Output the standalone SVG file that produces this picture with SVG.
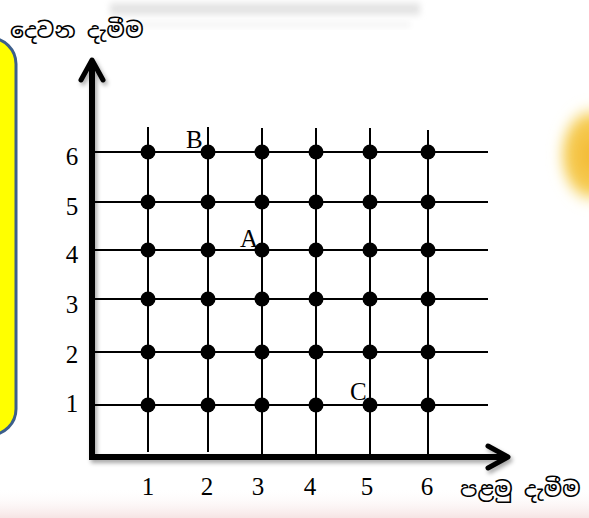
<svg xmlns="http://www.w3.org/2000/svg" width="589" height="518" viewBox="0 0 589 518">
  <defs>
    <filter id="blur6" x="-50%" y="-50%" width="200%" height="200%"><feGaussianBlur stdDeviation="6"/></filter>
    <filter id="blur3" x="-20%" y="-50%" width="140%" height="200%"><feGaussianBlur stdDeviation="3"/></filter>
    <filter id="shadow" x="-10%" y="-10%" width="120%" height="120%">
      <feDropShadow dx="2" dy="3" stdDeviation="2" flood-color="#000" flood-opacity="0.35"/>
    </filter>
    <linearGradient id="pinkbot" x1="0" y1="0" x2="0" y2="1">
      <stop offset="0" stop-color="#ffffff" stop-opacity="0"/>
      <stop offset="1" stop-color="#f6e4e4"/>
    </linearGradient>
    <radialGradient id="sun" cx="0.5" cy="0.5" r="0.5">
      <stop offset="0" stop-color="#f3b830"/>
      <stop offset="0.7" stop-color="#f6cd55"/>
      <stop offset="1" stop-color="#fbf1b0" stop-opacity="0"/>
    </radialGradient>
    <style>
      .grid { stroke: #000; stroke-width: 2; fill: none; }
      .axis { stroke: #000; stroke-width: 6; fill: none; }
      .arrow { stroke: #000; stroke-width: 5; fill: none; stroke-linecap: round; stroke-linejoin: round; }
      .pt { fill: #000; }
      .num { font-family: "Liberation Serif", "Times New Roman", serif; font-size: 25px; fill: #000; text-anchor: middle; }
      .lbl { font-family: "Liberation Serif", "Times New Roman", serif; font-size: 25px; fill: #000; }
      .si { font-family: "Noto Sans Sinhala", "Noto Serif Sinhala", "Iskoola Pota", "Noto Sans", sans-serif; font-size: 22px; fill: #000; }
    </style>
  </defs>

  <!-- background scene -->
  <rect x="0" y="0" width="589" height="518" fill="#ffffff"/>
  <g id="background">
    <rect x="110" y="3" width="310" height="12" fill="#e4e4e4" filter="url(#blur3)"/>
    <rect x="130" y="22" width="280" height="5" fill="#f2f2f2" filter="url(#blur3)"/>
    <ellipse cx="592" cy="155" rx="36" ry="52" fill="url(#sun)" filter="url(#blur6)"/>
    <rect x="0" y="488" width="589" height="30" fill="url(#pinkbot)"/>
  </g>

  <!-- yellow box at left -->
  <g id="yellow-box">
    <rect x="-40" y="38" width="56" height="397" rx="26" ry="26" fill="#ffff00" stroke="#3c5f8c" stroke-width="3"/>
  </g>

  <!-- grid lines -->
  <g id="grid" class="grid">
    <line x1="92" y1="152" x2="488" y2="152"/>
    <line x1="92" y1="202" x2="488" y2="202"/>
    <line x1="92" y1="250" x2="488" y2="250"/>
    <line x1="92" y1="299" x2="488" y2="299"/>
    <line x1="92" y1="352" x2="488" y2="352"/>
    <line x1="92" y1="405" x2="488" y2="405"/>
    <line x1="148" y1="127" x2="148" y2="452"/>
    <line x1="208" y1="127" x2="208" y2="452"/>
    <line x1="262" y1="128" x2="262" y2="457"/>
    <line x1="316" y1="128" x2="316" y2="457"/>
    <line x1="370" y1="128" x2="370" y2="457"/>
    <line x1="428" y1="130" x2="428" y2="457"/>
  </g>

  <!-- axes (connectors) -->
  <g id="axes" filter="url(#shadow)">
    <polyline class="axis" points="92,61 92,457 507,457" stroke-linejoin="miter"/>
    <polyline class="arrow" points="81,80 92,60 103,80"/>
    <polyline class="arrow" points="488,446 508,457 488,468"/>
  </g>

  <!-- points -->
  <g id="points">
    <g id="row6"><circle class="pt" cx="148" cy="152" r="7.5"/><circle class="pt" cx="208" cy="152" r="7.5"/><circle class="pt" cx="262" cy="152" r="7.5"/><circle class="pt" cx="316" cy="152" r="7.5"/><circle class="pt" cx="370" cy="152" r="7.5"/><circle class="pt" cx="428" cy="152" r="7.5"/></g>
    <g id="row5"><circle class="pt" cx="148" cy="202" r="7.5"/><circle class="pt" cx="208" cy="202" r="7.5"/><circle class="pt" cx="262" cy="202" r="7.5"/><circle class="pt" cx="316" cy="202" r="7.5"/><circle class="pt" cx="370" cy="202" r="7.5"/><circle class="pt" cx="428" cy="202" r="7.5"/></g>
    <g id="row4"><circle class="pt" cx="148" cy="250" r="7.5"/><circle class="pt" cx="208" cy="250" r="7.5"/><circle class="pt" cx="262" cy="250" r="7.5"/><circle class="pt" cx="316" cy="250" r="7.5"/><circle class="pt" cx="370" cy="250" r="7.5"/><circle class="pt" cx="428" cy="250" r="7.5"/></g>
    <g id="row3"><circle class="pt" cx="148" cy="299" r="7.5"/><circle class="pt" cx="208" cy="299" r="7.5"/><circle class="pt" cx="262" cy="299" r="7.5"/><circle class="pt" cx="316" cy="299" r="7.5"/><circle class="pt" cx="370" cy="299" r="7.5"/><circle class="pt" cx="428" cy="299" r="7.5"/></g>
    <g id="row2"><circle class="pt" cx="148" cy="352" r="7.5"/><circle class="pt" cx="208" cy="352" r="7.5"/><circle class="pt" cx="262" cy="352" r="7.5"/><circle class="pt" cx="316" cy="352" r="7.5"/><circle class="pt" cx="370" cy="352" r="7.5"/><circle class="pt" cx="428" cy="352" r="7.5"/></g>
    <g id="row1"><circle class="pt" cx="148" cy="405" r="7.5"/><circle class="pt" cx="208" cy="405" r="7.5"/><circle class="pt" cx="262" cy="405" r="7.5"/><circle class="pt" cx="316" cy="405" r="7.5"/><circle class="pt" cx="370" cy="405" r="7.5"/><circle class="pt" cx="428" cy="405" r="7.5"/></g>
  </g>

  <!-- point labels -->
  <g id="point-labels" class="lbl">
    <text x="186" y="148">B</text>
    <text x="240" y="247">A</text>
    <text x="350" y="400">C</text>
  </g>

  <!-- axis numbers -->
  <g id="y-numbers" class="num">
    <text x="72" y="165">6</text>
    <text x="72" y="215">5</text>
    <text x="72" y="263">4</text>
    <text x="72" y="313">3</text>
    <text x="72" y="363">2</text>
    <text x="72" y="412">1</text>
  </g>
  <g id="x-numbers" class="num">
    <text x="148" y="495">1</text>
    <text x="207" y="495">2</text>
    <text x="258" y="495">3</text>
    <text x="310" y="495">4</text>
    <text x="367" y="495">5</text>
    <text x="427" y="495">6</text>
  </g>

  <!-- axis titles -->
  <g id="axis-titles" class="si">
    <text x="10" y="38">දෙවන දැමීම</text>
    <text x="460" y="497">පළමු දැමීම</text>
  </g>
</svg>
